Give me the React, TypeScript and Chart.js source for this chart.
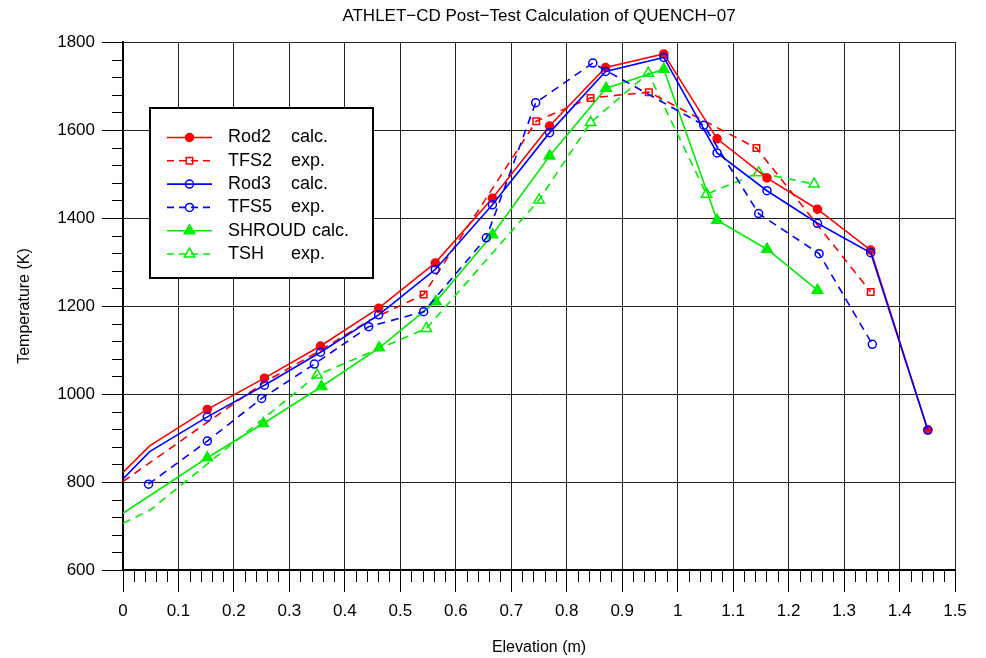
import React, { useEffect, useRef } from "react";
import { Chart, registerables } from "chart.js";

Chart.register(...registerables);

// ---- text ----
const TITLE = "ATHLET\u2212CD Post\u2212Test Calculation of QUENCH\u221207";
const X_TITLE = "Elevation (m)";
const Y_TITLE = "Temperature (K)";

// ---- axes ----
const X_MIN = 0;
const X_MAX = 1.5;
const X_STEP = 0.1;
const X_MINOR = 0.02;
const Y_MIN = 600;
const Y_MAX = 1800;
const Y_STEP = 200;
const Y_MINOR = 40;

// ---- series (elevation m, temperature K) ----
const rod2X = [0, 0.048, 0.152, 0.255, 0.356, 0.461, 0.563, 0.666, 0.769, 0.87, 0.975, 1.071, 1.161, 1.252, 1.348, 1.451];
const rod2Y = [822, 882, 965, 1036, 1109, 1195, 1298, 1445, 1609, 1742, 1773, 1580, 1491, 1420, 1327, 918];

const tfs2X = [0, 0.254, 0.35, 0.445, 0.542, 0.745, 0.843, 0.948, 1.142, 1.348];
const tfs2Y = [801, 1026, 1095, 1168, 1226, 1620, 1673, 1686, 1559, 1232];

const rod3X = [0, 0.048, 0.152, 0.255, 0.356, 0.461, 0.563, 0.666, 0.769, 0.87, 0.975, 1.071, 1.161, 1.252, 1.348, 1.451];
const rod3Y = [807, 869, 948, 1020, 1095, 1180, 1283, 1430, 1594, 1733, 1765, 1548, 1462, 1388, 1321, 918];

const tfs5X = [0.046, 0.152, 0.25, 0.345, 0.443, 0.542, 0.655, 0.744, 0.847, 1.047, 1.146, 1.255, 1.351];
const tfs5Y = [795, 893, 990, 1068, 1153, 1187, 1355, 1662, 1752, 1611, 1410, 1319, 1113];

const shroudX = [0, 0.152, 0.253, 0.358, 0.462, 0.564, 0.666, 0.769, 0.871, 0.975, 1.071, 1.161, 1.252];
const shroudY = [729, 855, 933, 1017, 1105, 1210, 1362, 1541, 1695, 1738, 1395, 1329, 1236];

const tshX = [0, 0.05, 0.35, 0.547, 0.75, 0.843, 0.947, 1.052, 1.146, 1.246];
const tshY = [706, 737, 1043, 1149, 1441, 1617, 1729, 1454, 1503, 1477];

const LEGEND_NAMES = ["Rod2", "TFS2", "Rod3", "TFS5", "SHROUD", "TSH"];
const LEGEND_DESCS = ["calc.", "exp.", "calc.", "exp.", "calc.", "exp."];

// ---- styles ----
const RED = "#ff0000";
const BLUE = "#0000ff";
const GREEN = "#00ee00";
const DASH = [8, 6];
const FONT = "'Liberation Sans', Arial, Helvetica, sans-serif";

type Style = { color: string; dash: number[]; marker: "circle" | "rect" | "triangle"; filled: boolean; r: number; unmarked: number };

const STYLES: Style[] = [
  { color: RED, dash: [], marker: "circle", filled: true, r: 4, unmarked: 2 },
  { color: RED, dash: DASH, marker: "rect", filled: false, r: 4.6, unmarked: 4 },
  { color: BLUE, dash: [], marker: "circle", filled: false, r: 4, unmarked: 2 },
  { color: BLUE, dash: DASH, marker: "circle", filled: false, r: 4, unmarked: 0 },
  { color: GREEN, dash: [], marker: "triangle", filled: true, r: 6, unmarked: 1 },
  { color: GREEN, dash: DASH, marker: "triangle", filled: false, r: 6, unmarked: 2 },
];

const SERIES: [number[], number[]][] = [
  [rod2X, rod2Y],
  [tfs2X, tfs2Y],
  [rod3X, rod3Y],
  [tfs5X, tfs5Y],
  [shroudX, shroudY],
  [tshX, tshY],
];

const ORDERS = [3, 4, 1, 2, 5, 6];

function drawMarker(ctx: CanvasRenderingContext2D, s: Style, x: number, y: number) {
  ctx.save();
  ctx.setLineDash([]);
  ctx.lineWidth = 1.5;
  ctx.strokeStyle = s.color;
  ctx.fillStyle = s.color;
  ctx.beginPath();
  if (s.marker === "circle") {
    ctx.arc(x, y, s.r, 0, Math.PI * 2);
  } else if (s.marker === "rect") {
    const side = s.r * Math.SQRT2;
    ctx.rect(x - side / 2, y - side / 2, side, side);
  } else {
    let rad = 0;
    ctx.moveTo(x + Math.sin(rad) * s.r, y - Math.cos(rad) * s.r);
    rad += (2 * Math.PI) / 3;
    ctx.lineTo(x + Math.sin(rad) * s.r, y - Math.cos(rad) * s.r);
    rad += (2 * Math.PI) / 3;
    ctx.lineTo(x + Math.sin(rad) * s.r, y - Math.cos(rad) * s.r);
  }
  ctx.closePath();
  if (s.filled) ctx.fill();
  ctx.stroke();
  ctx.restore();
}

const decorPlugin = {
  id: "decor",
  afterDraw(chart: any) {
    const ctx: CanvasRenderingContext2D = chart.ctx;
    const xs = chart.scales.x;
    const ys = chart.scales.y;
    const area = chart.chartArea;

    // minor ticks
    ctx.save();
    ctx.strokeStyle = "#000";
    ctx.lineWidth = 1;
    const nx = Math.round((X_MAX - X_MIN) / X_MINOR);
    const per = Math.round(X_STEP / X_MINOR);
    for (let i = 0; i <= nx; i++) {
      if (i % per === 0) continue;
      const px = Math.round(xs.getPixelForValue(X_MIN + i * X_MINOR)) + 0.5;
      ctx.beginPath();
      ctx.moveTo(px, area.bottom);
      ctx.lineTo(px, area.bottom + 12);
      ctx.stroke();
    }
    const ny = Math.round((Y_MAX - Y_MIN) / Y_MINOR);
    const perY = Math.round(Y_STEP / Y_MINOR);
    for (let i = 0; i <= ny; i++) {
      if (i % perY === 0) continue;
      const py = Math.round(ys.getPixelForValue(Y_MIN + i * Y_MINOR)) + 0.5;
      ctx.beginPath();
      ctx.moveTo(area.left - 11, py);
      ctx.lineTo(area.left, py);
      ctx.stroke();
    }

    // title
    ctx.fillStyle = "#000";
    ctx.font = `17px ${FONT}`;
    ctx.textAlign = "center";
    ctx.textBaseline = "middle";
    ctx.fillText(TITLE, (area.left + area.right) / 2, 16);

    // legend
    const bx0 = 150, by0 = 108, bx1 = 373, by1 = 278;
    ctx.fillStyle = "#fff";
    ctx.fillRect(bx0, by0, bx1 - bx0, by1 - by0);
    ctx.strokeStyle = "#000";
    ctx.lineWidth = 2;
    ctx.strokeRect(bx0, by0, bx1 - bx0, by1 - by0);
    ctx.font = `18px ${FONT}`;
    ctx.textAlign = "left";
    ctx.textBaseline = "middle";
    STYLES.forEach((s, i) => {
      const y = 137.5 + i * 23.3;
      ctx.save();
      ctx.strokeStyle = s.color;
      ctx.lineWidth = 1.6;
      ctx.setLineDash(s.dash.length ? [7, 5] : []);
      ctx.beginPath();
      ctx.moveTo(167, y);
      ctx.lineTo(212, y);
      ctx.stroke();
      ctx.restore();
      drawMarker(ctx, s, 189.5, y);
      ctx.fillStyle = "#000";
      const name = LEGEND_NAMES[i];
      ctx.fillText(name, 228, y);
      const w = ctx.measureText(name).width;
      ctx.fillText(LEGEND_DESCS[i], Math.max(291, 228 + w + 6), y);
    });
    ctx.restore();
  },
};

export default function App() {
  const ref = useRef<HTMLCanvasElement>(null);

  useEffect(() => {
    const canvas = ref.current;
    if (!canvas) return;

    const datasets = SERIES.map(([xs, ys], i) => {
      const s = STYLES[i];
      return {
        label: `${LEGEND_NAMES[i]} ${LEGEND_DESCS[i]}`,
        data: xs.map((x, k) => ({ x, y: ys[k] })),
        borderColor: s.color,
        borderWidth: 1.6,
        borderDash: s.dash,
        tension: 0,
        fill: false,
        order: ORDERS[i],
        pointStyle: s.marker,
        pointRadius: (c: any) => (c.dataIndex < s.unmarked ? 0 : s.r),
        pointBackgroundColor: s.filled ? s.color : "rgba(0,0,0,0)",
        pointBorderColor: s.color,
        pointBorderWidth: 1.5,
      };
    });

    const chart = new Chart(canvas, {
      type: "line",
      data: { datasets },
      options: {
        animation: false,
        responsive: false,
        devicePixelRatio: 1,
        layout: { padding: { top: 42, right: 31, left: 0, bottom: 0 } },
        plugins: {
          legend: { display: false },
          tooltip: { enabled: false },
          title: { display: false },
        },
        scales: {
          x: {
            type: "linear",
            min: X_MIN,
            max: X_MAX,
            afterFit: (s: any) => {
              s.height = 88;
            },
            ticks: {
              stepSize: X_STEP,
              color: "#000",
              padding: 9,
              maxRotation: 0,
              autoSkip: false,
              font: { family: FONT, size: 17 },
              callback: (v: any) => String(Math.round(Number(v) * 10) / 10),
            },
            grid: { color: "#222", lineWidth: 1, drawTicks: true, tickLength: 22, tickColor: "#000" },
            border: { display: true, color: "#000", width: 2 },
            title: { display: true, text: X_TITLE, color: "#000", font: { family: FONT, size: 16 }, padding: { top: 0, bottom: 1 } },
          },
          y: {
            type: "linear",
            min: Y_MIN,
            max: Y_MAX,
            afterFit: (s: any) => {
              s.width = 123;
            },
            ticks: {
              stepSize: Y_STEP,
              color: "#000",
              padding: 7,
              font: { family: FONT, size: 17 },
              callback: (v: any) => String(Math.round(Number(v))),
            },
            grid: { color: "#222", lineWidth: 1, drawTicks: true, tickLength: 21, tickColor: "#000" },
            border: { display: true, color: "#000", width: 2 },
            title: { display: true, text: Y_TITLE, color: "#000", font: { family: FONT, size: 16 }, padding: { top: 15, bottom: 0 } },
          },
        },
      },
      plugins: [decorPlugin],
    } as any);

    return () => chart.destroy();
  }, []);

  return (
    <div style={{ position: "absolute", left: 0, top: 0, width: 986, height: 658, background: "#fff" }}>
      <canvas ref={ref} width={986} height={658} style={{ display: "block", width: 986, height: 658 }} />
    </div>
  );
}
